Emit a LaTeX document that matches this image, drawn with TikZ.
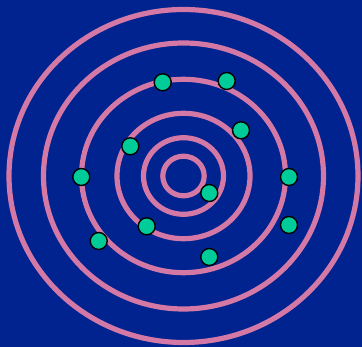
\documentclass[tikz,border=0pt]{standalone}
\definecolor{bg}{RGB}{0,35,143}
\definecolor{ring}{RGB}{212,120,166}
\definecolor{dotc}{RGB}{0,204,153}
\begin{document}
\begin{tikzpicture}[x=1pt,y=-1pt,
  ringline/.style={draw=ring,line width=5.2pt},
  dotnode/.style={circle,draw=black,line width=1.4pt,fill=dotc,minimum size=17pt,inner sep=0pt}]
\fill[bg] (0,0) rectangle (362,347);
\useasboundingbox (0,0) rectangle (362,347);
\coordinate (c) at (183.5,176);
\draw[ringline] (c) ellipse [x radius=174.5, y radius=166.5];
\draw[ringline] (c) ellipse [x radius=140, y radius=133];
\draw[ringline] (c) ellipse [x radius=102, y radius=96.7];
\draw[ringline] (c) ellipse [x radius=66.5, y radius=62.7];
\draw[ringline] (c) ellipse [x radius=40, y radius=38.3];
\draw[ringline] (c) ellipse [x radius=20.7, y radius=19.8];
\node[dotnode] (d1) at (162.7,82.3) {};
\node[dotnode] (d2) at (226.7,81) {};
\node[dotnode] (d3) at (241,130.3) {};
\node[dotnode] (d4) at (130.3,146.3) {};
\node[dotnode] (d5) at (81.3,177) {};
\node[dotnode] (d6) at (289,177) {};
\node[dotnode] (d7) at (209.3,193) {};
\node[dotnode] (d8) at (146.7,226.3) {};
\node[dotnode] (d9) at (289,225) {};
\node[dotnode] (d10) at (98.7,241) {};
\node[dotnode] (d11) at (209.3,257) {};
\end{tikzpicture}
\end{document}
